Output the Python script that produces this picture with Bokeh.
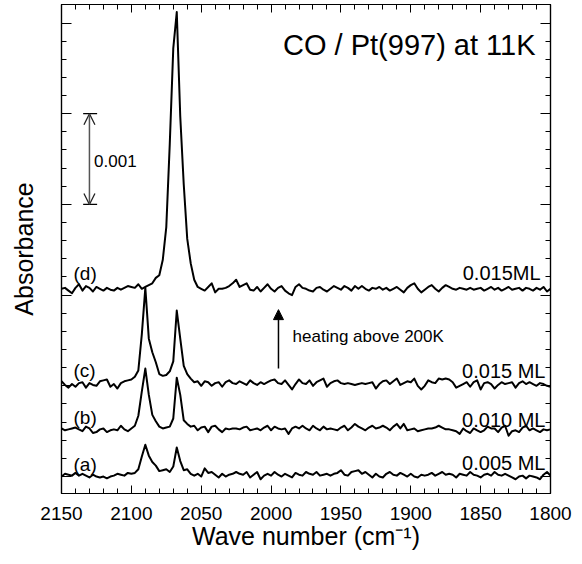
import numpy as np
from bokeh.plotting import figure
from bokeh.models import (Range1d, LinearAxis, SingleIntervalTicker, Label, Arrow,
                          NormalHead, OpenHead, CustomJSTickFormatter)
from bokeh.embed import file_html
from bokeh.resources import INLINE

# ---------------- data ----------------
# wavenumber sampling grid (cm^-1), 2150 -> 1800 in 2.5 cm^-1 steps (141 points)
wavenumber = np.arange(2150.0, 1797.5, -2.5)

# absorbance spectra, units of 1e-5 (i.e. 100 = 0.001)
spec_a = [-1, 2, 1, 0, 3, 0, 2, 0, -2, 1,
          -1, -2, -1, -3, -1, 0, 2, 1, 0, 3,
          2, 3, 7, 21, 34, 22, 15, 11, 5, 6,
          7, 4, 10, 31, 16, 6, 7, 2, 0, 2,
          -1, 8, 3, 4, 1, -2, 2, -1, 1, 2,
          4, 2, 1, 4, -2, 1, 4, -4, 0, 2,
          0, 4, 1, -1, 2, 0, -2, 3, 1, 0,
          4, 2, 1, 4, 0, 1, 2, 0, 2, 3,
          6, 1, 0, 4, 5, 6, 2, 4, 1, -2,
          2, -1, -2, 2, 4, 1, 0, 3, 1, -1,
          2, -1, -2, 1, 0, 1, 3, 0, 2, 4,
          1, 2, 1, -2, 2, 1, 0, 4, 1, 0,
          -2, 1, 2, 0, 4, 1, 0, 2, 0, -2,
          -4, -1, 0, -3, 0, -1, -2, -4, 1, 4,
          0]
spec_b = [1, -1, 0, 1, 2, 0, -2, 3, 1, -4,
          -3, 0, 1, -3, -1, 0, -1, 4, 0, -2,
          1, 4, 15, 42, 67, 38, 16, 9, 3, 1,
          2, 3, 12, 57, 38, 10, 6, 3, 4, -1,
          2, 3, -3, 3, 4, 0, -3, 1, 0, 1,
          1, 0, 2, 3, -1, 0, 1, -1, 2, 4,
          -1, 3, 1, 0, 1, -5, 1, 3, 1, 4,
          1, -1, 4, 1, -1, 3, 0, 1, 0, -1,
          2, 4, -1, 2, 6, 3, 1, -1, 2, 4,
          1, 2, 4, 2, -1, 3, 6, 1, 6, -1,
          0, 1, -2, -1, 0, 1, 1, 2, 4, 2,
          0, 0, -1, -2, -5, 1, -2, -4, 1, -1,
          -3, -1, 3, 1, 1, -3, 2, 4, -7, -2,
          -1, -3, 2, 4, -1, 1, -1, -3, 0, -1,
          0]
spec_c = [3, -1, -4, 0, -3, 1, 2, -4, 1, -1,
          -2, 3, 4, 5, -3, 0, -5, 1, 3, 4,
          5, 8, 15, 55, 106, 50, 35, 24, 11, 9,
          10, 14, 25, 81, 50, 20, 11, 6, 2, 3,
          -2, 3, 2, -2, 1, 2, -3, 2, 4, 1,
          0, 3, 1, -1, 4, 1, -1, 2, 0, 2,
          4, 5, 1, 0, 4, -1, -6, 0, 5, 1,
          0, 4, -2, 2, 4, 6, -3, 1, 3, 4,
          1, 0, 1, 0, -1, 0, 1, 0, 1, 2,
          -5, 0, 3, 4, 0, 3, 6, -1, 1, 3,
          2, 6, -2, -6, -2, 4, 2, 1, 6, 5,
          6, 5, 2, -4, -2, 0, 2, -3, 2, 4,
          -6, 1, 2, 0, -5, -1, 2, 0, 1, 2,
          -4, 1, 3, 0, 2, 0, -2, 1, 0, -2,
          -3]
spec_d = [0, 1, -2, -5, 1, 5, -2, 3, 1, -3,
          2, 0, -2, 1, -1, -2, 1, -1, 1, 3,
          2, 1, 5, 0, 2, 4, 6, 12, 15, 32,
          68, 160, 265, 305, 190, 115, 55, 28, 10, 2,
          0, -2, 2, 6, -4, 0, 0, 1, 3, 6,
          10, 2, 4, 6, -1, -2, 2, -3, 1, 5,
          0, -3, 1, 3, -2, -5, -7, 2, 5, 1,
          0, -2, -3, 1, 2, -1, -3, 0, 3, 1,
          -1, 3, 1, -2, 3, 0, 3, 0, -2, 1,
          0, 2, -1, 1, -2, 0, 2, -1, -4, 1,
          4, 6, 0, -4, -1, 2, 4, 0, -3, 1,
          4, 2, 0, -1, 1, 0, -1, 1, -1, 0,
          1, -2, 0, 2, -1, 1, -2, 0, 2, -1,
          0, 1, -2, 1, 0, -2, 1, -1, 2, -3,
          0]

spectra = [spec_a, spec_b, spec_c, spec_d]
trace_offsets = [1, 52, 102, 207]          # vertical stacking offsets (1e-5 units)
trace_tags = ["(a)", "(b)", "(c)", "(d)"]
coverages = ["0.005 ML", "0.010 ML", "0.015 ML", "0.015ML"]

for s in spectra:
    assert len(s) == len(wavenumber), (len(s), len(wavenumber))

FONT = "Liberation Sans"

# ---------------- figure ----------------
p = figure(width=574, height=556,
           x_range=Range1d(2150, 1800), y_range=Range1d(-18.7, 520.4),
           output_backend="svg", toolbar_location=None,
           min_border_left=61, min_border_right=24,
           min_border_top=4, min_border_bottom=63,
           x_axis_label="Wave number (cm\u207b\u00b9)", y_axis_label="Absorbance")
p.xgrid.visible = False
p.ygrid.visible = False
p.outline_line_color = "black"
p.outline_line_width = 1.2
p.background_fill_color = "white"
p.border_fill_color = "white"

blank = CustomJSTickFormatter(code="return ''")


def style_axis(ax, major_len, minor_len):
    ax.major_tick_in = major_len
    ax.major_tick_out = 0
    ax.minor_tick_in = minor_len
    ax.minor_tick_out = 0
    ax.axis_line_color = "black"
    ax.axis_line_width = 1.2
    ax.major_tick_line_color = "black"
    ax.minor_tick_line_color = "black"
    ax.major_tick_line_width = 1
    ax.minor_tick_line_width = 1


# bottom axis
xa = p.xaxis[0]
xa.ticker = SingleIntervalTicker(interval=50, num_minor_ticks=5)
style_axis(xa, 8, 5)
xa.major_label_text_font = FONT
xa.major_label_text_font_size = "19px"
xa.major_label_text_color = "black"
xa.major_label_standoff = 13
xa.axis_label_text_font = FONT
xa.axis_label_text_font_size = "25px"
xa.axis_label_text_font_style = "normal"
xa.axis_label_text_color = "black"
xa.axis_label_standoff = -1

# top axis
xt = LinearAxis(ticker=SingleIntervalTicker(interval=50, num_minor_ticks=5), formatter=blank)
style_axis(xt, 8, 5)
xt.major_label_standoff = 0
p.add_layout(xt, "above")

# left axis
ya = p.yaxis[0]
ya.ticker = SingleIntervalTicker(interval=100, num_minor_ticks=5)
ya.formatter = blank
style_axis(ya, 10, 5)
ya.major_label_standoff = 0
ya.axis_label_text_font = FONT
ya.axis_label_text_font_size = "25px"
ya.axis_label_text_font_style = "normal"
ya.axis_label_text_color = "black"
ya.axis_label_standoff = 24

# right axis
yr = LinearAxis(ticker=SingleIntervalTicker(interval=100, num_minor_ticks=5), formatter=blank)
style_axis(yr, 10, 5)
yr.major_label_standoff = 0
p.add_layout(yr, "right")

# ---------------- spectra ----------------
for spec, off in zip(spectra, trace_offsets):
    y = np.array(spec, dtype=float) + off
    p.line(wavenumber, y, line_color="black", line_width=2, line_join="round")

# ---------------- annotations ----------------
tag_y = [13.2, 65.0, 116.9, 223.8]
cov_y = [15.4, 62.8, 116.9, 224.9]
cov_x = [1803.6, 1803.6, 1803.6, 1807.1]
for tag, ty, cov, cy, cx in zip(trace_tags, tag_y, coverages, cov_y, cov_x):
    p.add_layout(Label(x=2141.4, y=ty, text=tag, text_font=FONT, text_font_size="19px",
                       text_align="left", text_baseline="middle", text_color="black"))
    p.add_layout(Label(x=cx, y=cy, text=cov, text_font=FONT, text_font_size="20px",
                       text_align="right", text_baseline="middle", text_color="black"))

p.add_layout(Label(x=1810.7, y=475.2, text="CO / Pt(997) at 11K", text_font=FONT,
                   text_font_size="29px", text_align="right", text_baseline="alphabetic",
                   text_color="black"))

# heating arrow
p.add_layout(Arrow(x_start=1994.7, y_start=119, x_end=1994.7, y_end=184,
                   line_color="black", line_width=1.5,
                   end=NormalHead(size=10, fill_color="black", line_color="black")))
p.add_layout(Label(x=1984.6, y=154.3, text="heating above 200K", text_font=FONT,
                   text_font_size="17px", text_align="left", text_baseline="middle",
                   text_color="black"))

# 0.001 scale bar
bar_x, bar_lo, bar_hi = 2130.0, 300.0, 400.0
p.add_layout(Arrow(x_start=bar_x, y_start=bar_lo, x_end=bar_x, y_end=bar_hi,
                   line_color="#555555", line_width=1.5,
                   start=OpenHead(size=11, line_color="#222222", line_width=1.3),
                   end=OpenHead(size=11, line_color="#222222", line_width=1.3)))
p.segment(x0=[bar_x + 4.5, bar_x + 4.5], y0=[bar_lo, bar_hi],
          x1=[bar_x - 5.5, bar_x - 5.5], y1=[bar_lo, bar_hi],
          line_color="black", line_width=1.3)
p.add_layout(Label(x=2126.7, y=348.4, text="0.001", text_font=FONT, text_font_size="17px",
                   text_align="left", text_baseline="middle", text_color="black"))

open("out.html", "w").write(file_html(p, INLINE))
